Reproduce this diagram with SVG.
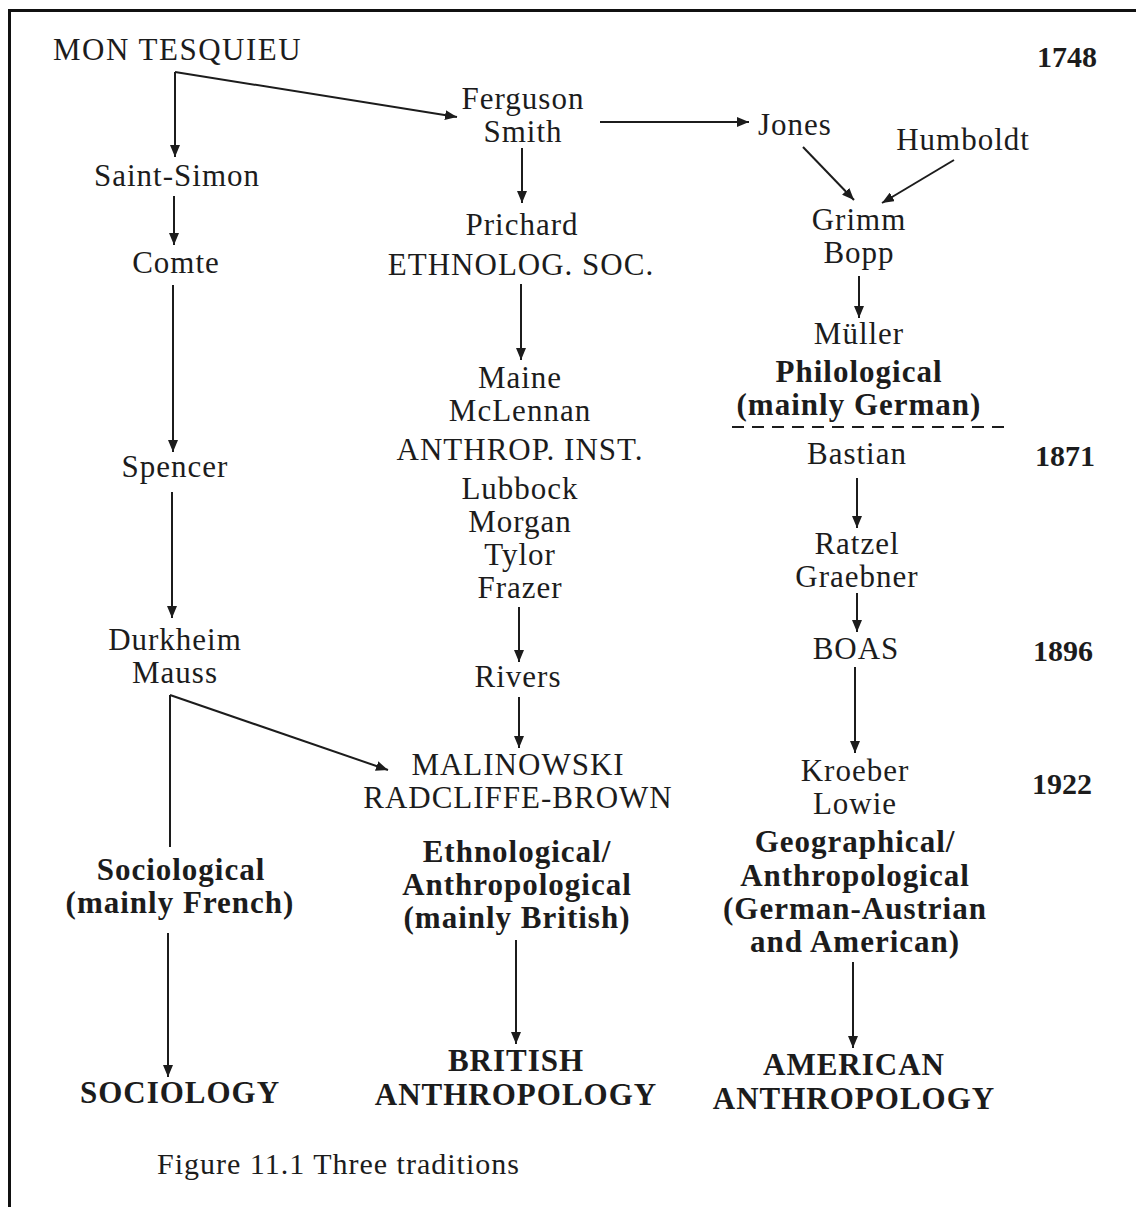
<svg xmlns="http://www.w3.org/2000/svg" width="1136" height="1207" viewBox="0 0 1136 1207">
<style>
.t{font-family:"Liberation Serif","Times New Roman",serif;font-size:31px;letter-spacing:1px;text-anchor:middle;fill:#1c1c1c}
.b{font-weight:bold}
.yr{font-family:"Liberation Serif","Times New Roman",serif;font-size:30px;font-weight:bold;fill:#1c1c1c}
.c{stroke:#1c1c1c;stroke-width:2;fill:none}
.a{marker-end:url(#ah)}
</style>
<defs>
<marker id="ah" markerUnits="userSpaceOnUse" markerWidth="13" markerHeight="10" refX="12" refY="5" orient="auto">
<path d="M0,0 L12,5 L0,10 z" fill="#1c1c1c"/>
</marker>
</defs>
<rect width="1136" height="1207" fill="#ffffff"/>
<path d="M9.5,1207 V10.5 H1136" stroke="#111" stroke-width="3" fill="none"/>

<g id="connectors">
<path class="c a" d="M175,72 V157"/>
<path class="c a" d="M175,72 L457,117"/>
<path class="c a" d="M600,122 H749"/>
<path class="c a" d="M522,148 V203"/>
<path class="c a" d="M803,147 L854,200"/>
<path class="c a" d="M954,160 L882,203"/>
<path class="c a" d="M521,284 V360"/>
<path class="c a" d="M859,276 V318"/>
<path class="c" d="M732,427 H1012" stroke-dasharray="12 8"/>
<path class="c a" d="M174,196 V245"/>
<path class="c a" d="M173,285 V452"/>
<path class="c a" d="M172,492 V618"/>
<path class="c" d="M170,695 V847"/>
<path class="c a" d="M170,695 L388,770"/>
<path class="c a" d="M168,933 V1077"/>
<path class="c a" d="M519,607 V662"/>
<path class="c a" d="M519,697 V748"/>
<path class="c a" d="M516,940 V1044"/>
<path class="c a" d="M857,478 V528"/>
<path class="c a" d="M857,593 V632"/>
<path class="c a" d="M855,667 V753"/>
<path class="c a" d="M853,962 V1048"/>
</g>

<g id="montesquieu"><text class="t" x="53" y="60" style="text-anchor:start;letter-spacing:1.5px">MON TESQUIEU</text></g>
<g id="y1748"><text class="yr" x="1037" y="67">1748</text></g>
<g id="ferguson-smith"><text class="t" x="523" y="109">Ferguson</text><text class="t" x="523" y="142">Smith</text></g>
<g id="jones"><text class="t" x="795" y="135">Jones</text></g>
<g id="humboldt"><text class="t" x="963" y="150">Humboldt</text></g>
<g id="grimm-bopp"><text class="t" x="859" y="230">Grimm</text><text class="t" x="859" y="263">Bopp</text></g>
<g id="muller"><text class="t" x="859" y="344">Müller</text><text class="t b" x="859" y="382">Philological</text><text class="t b" x="859" y="415">(mainly German)</text></g>
<g id="bastian"><text class="t" x="857" y="464">Bastian</text></g>
<g id="y1871"><text class="yr" x="1035" y="466">1871</text></g>
<g id="ratzel-graebner"><text class="t" x="857" y="554">Ratzel</text><text class="t" x="857" y="587">Graebner</text></g>
<g id="boas"><text class="t" x="856" y="659">BOAS</text></g>
<g id="y1896"><text class="yr" x="1033" y="661">1896</text></g>
<g id="kroeber-lowie"><text class="t" x="855" y="781">Kroeber</text><text class="t" x="855" y="814">Lowie</text></g>
<g id="y1922"><text class="yr" x="1032" y="794">1922</text></g>
<g id="geographical"><text class="t b" x="855" y="852">Geographical/</text><text class="t b" x="855" y="886">Anthropological</text><text class="t b" x="855" y="919">(German-Austrian</text><text class="t b" x="855" y="952">and American)</text></g>
<g id="american-anthropology"><text class="t b" x="854" y="1075">AMERICAN</text><text class="t b" x="854" y="1109">ANTHROPOLOGY</text></g>

<g id="prichard"><text class="t" x="522" y="235">Prichard</text><text class="t" x="521" y="275">ETHNOLOG. SOC.</text></g>
<g id="maine-frazer"><text class="t" x="520" y="388">Maine</text><text class="t" x="520" y="421">McLennan</text><text class="t" x="520" y="460">ANTHROP. INST.</text><text class="t" x="520" y="499">Lubbock</text><text class="t" x="520" y="532">Morgan</text><text class="t" x="520" y="565">Tylor</text><text class="t" x="520" y="598">Frazer</text></g>
<g id="rivers"><text class="t" x="518" y="687">Rivers</text></g>
<g id="malinowski"><text class="t" x="518" y="775">MALINOWSKI</text><text class="t" x="518" y="808">RADCLIFFE-BROWN</text></g>
<g id="ethnological"><text class="t b" x="517" y="862">Ethnological/</text><text class="t b" x="517" y="895">Anthropological</text><text class="t b" x="517" y="928">(mainly British)</text></g>
<g id="british-anthropology"><text class="t b" x="516" y="1071">BRITISH</text><text class="t b" x="516" y="1105">ANTHROPOLOGY</text></g>

<g id="saint-simon"><text class="t" x="177" y="186">Saint-Simon</text></g>
<g id="comte"><text class="t" x="176" y="273">Comte</text></g>
<g id="spencer"><text class="t" x="175" y="477">Spencer</text></g>
<g id="durkheim-mauss"><text class="t" x="175" y="650">Durkheim</text><text class="t" x="175" y="683">Mauss</text></g>
<g id="sociological"><text class="t b" x="181" y="880">Sociological</text><text class="t b" x="180" y="913">(mainly French)</text></g>
<g id="sociology"><text class="t b" x="180" y="1103">SOCIOLOGY</text></g>

<g id="caption"><text class="t" x="157" y="1174" style="text-anchor:start;font-size:30px">Figure 11.1 Three traditions</text></g>
</svg>
